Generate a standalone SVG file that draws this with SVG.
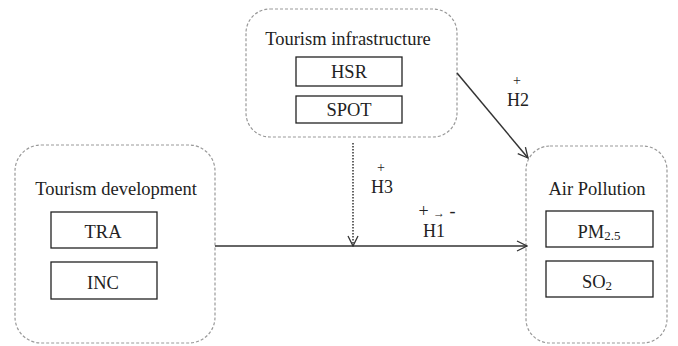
<svg xmlns="http://www.w3.org/2000/svg" width="678" height="346" viewBox="0 0 678 346">
<defs>
<style>
.grp{fill:none;stroke:#999;stroke-width:1.2;stroke-dasharray:3 2}
.box{fill:#fff;stroke:#222;stroke-width:1.3}
.t{font-family:"Liberation Serif","Times New Roman",serif;fill:#222;text-anchor:middle}
.title{font-size:18.5px}
.lab{font-size:18.5px}
.h{font-size:18px}
.p{font-size:14px}
.ln{fill:none;stroke:#333;stroke-width:1.5}
</style>
<marker id="ah" viewBox="0 0 12 12" refX="11" refY="6" markerWidth="12" markerHeight="12" markerUnits="userSpaceOnUse" orient="auto">
<path d="M1,1 L11,6 L1,11" fill="none" stroke="#333" stroke-width="1.3"/>
</marker>
</defs>
<rect width="678" height="346" fill="#fff"/>
<g id="infrastructure">
<rect class="grp" x="246" y="9" width="211" height="128" rx="24"/>
<text class="t title" x="348" y="45">Tourism infrastructure</text>
<rect class="box" x="296" y="57" width="106" height="29"/>
<text class="t lab" x="349" y="78">HSR</text>
<rect class="box" x="296" y="96" width="106" height="27"/>
<text class="t lab" x="349" y="116">SPOT</text>
</g>
<g id="development">
<rect class="grp" x="15" y="145" width="200" height="198" rx="26"/>
<text class="t title" x="116" y="195">Tourism development</text>
<rect class="box" x="51" y="212" width="106" height="36"/>
<text class="t lab" x="103" y="238">TRA</text>
<rect class="box" x="51" y="262" width="106" height="37"/>
<text class="t lab" x="103" y="289">INC</text>
</g>
<g id="pollution">
<rect class="grp" x="526" y="146" width="141" height="197" rx="24"/>
<text class="t title" x="597" y="195">Air Pollution</text>
<rect class="box" x="546" y="211" width="107" height="36"/>
<text class="t lab" x="599" y="238">PM<tspan font-size="13" dy="2">2.5</tspan></text>
<rect class="box" x="546" y="261" width="107" height="36"/>
<text class="t lab" x="597" y="288">SO<tspan font-size="13" dy="2">2</tspan></text>
</g>
<g id="connectors">
<line class="ln" x1="215" y1="246" x2="527" y2="246" marker-end="url(#ah)"/>
<line class="ln" x1="457" y1="73" x2="528" y2="158" marker-end="url(#ah)"/>
<line class="ln" x1="353" y1="143" x2="353" y2="246" stroke-dasharray="1.5 1.5" stroke-width="1.2" marker-end="url(#ah)"/>
<text class="t p" x="381" y="172">+</text>
<text class="t h" x="382" y="193">H3</text>
<text class="t p" x="517" y="85">+</text>
<text class="t h" x="518" y="106">H2</text>
<text class="t h" x="437" y="217">+ <tspan font-size="12">→</tspan> -</text>
<text class="t h" x="434" y="237">H1</text>
</g>
</svg>
